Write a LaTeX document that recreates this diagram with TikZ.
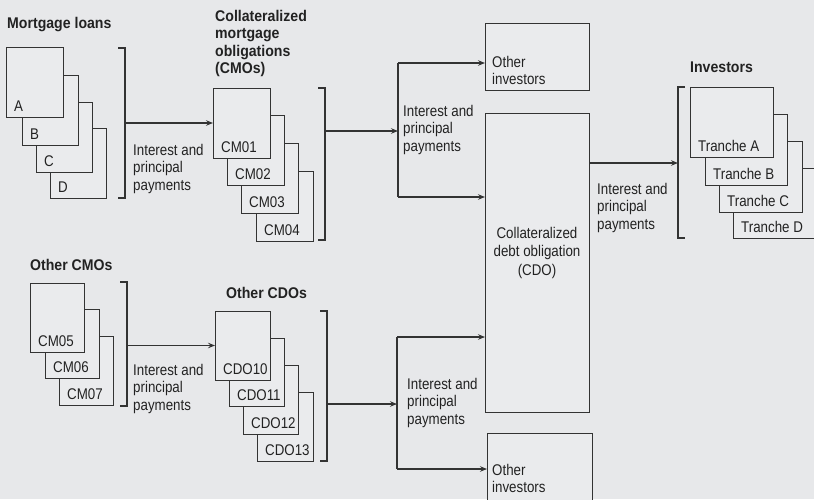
\documentclass[tikz,border=0pt]{standalone}
\usepackage{fontspec}
\setmainfont{Liberation Sans}[FakeStretch=0.86, BoldFeatures={FakeStretch=0.91}]
\usetikzlibrary{arrows.meta}
\definecolor{bg}{HTML}{E7E8EA}
\definecolor{boxbg}{HTML}{EAEBED}
\definecolor{ink}{HTML}{333333}
\definecolor{txt}{HTML}{222222}
\tikzset{
  ln/.style={draw=ink, line width=1.1pt},
  arr/.style={ln, -{Stealth[length=7pt,width=5.5pt,inset=2.5pt]}},
  box/.style={draw=ink, fill=boxbg, line width=1.1pt, inner sep=0pt, rectangle},
  lbl/.style={text=txt, inner sep=0pt, font=\fontsize{15.5}{17.5}\selectfont},
  txtblk/.style={text=txt, inner sep=0pt, align=left, anchor=north west, font=\fontsize{15.5}{17.5}\selectfont},
  ttl/.style={text=txt, inner sep=0pt, align=left, anchor=north west, font=\fontsize{15.5}{17.5}\selectfont\bfseries},
}
\newcommand\stk[6]{%
  \node[box, minimum width=#4pt, minimum height=#5pt, anchor=north west] (#1) at (#2,#3) {};
  \node[lbl, anchor=base west] (#1-l) at ([xshift=8pt,yshift=7pt]#1.south west) {#6};
}
\begin{document}
\begin{tikzpicture}[x=1pt,y=-1pt]
\useasboundingbox (0,0) rectangle (814,499);
\fill[bg] (0,0) rectangle (814,499);
\clip (0,0) rectangle (814,499);

% Mortgage loans
\node[ttl] (tml) at (7,17) {Mortgage loans};
\stk{mD}{50}{128}{56}{70}{D}
\stk{mC}{36}{102}{56}{70}{C}
\stk{mB}{22}{75}{56}{70}{B}
\stk{mA}{6}{47}{57}{70}{A}
\draw[ln] (118,48) -- (125,48) -- (125,198) -- (118,198);
\coordinate (br1) at (125,123);
\node[txtblk] (t1) at (133,144) {Interest and\\principal\\payments};

% CMOs
\node[ttl] (tcmo) at (215,10) {Collateralized\\mortgage\\obligations\\(CMOs)};
\stk{cm4}{256}{171}{57}{70}{CM04}
\stk{cm3}{241}{143}{57}{70}{CM03}
\stk{cm2}{227}{115}{57}{70}{CM02}
\stk{cm1}{213}{88}{57}{70}{CM01}
\draw[arr] (br1) -- (cm1.west |- br1);
\draw[ln] (318,88) -- (325,88) -- (325,240) -- (318,240);
\coordinate (br2) at (325,131);
\coordinate (sp1) at (398,131);
\coordinate (sp1t) at (398,63);
\coordinate (sp1b) at (398,197);
\draw[arr] (br2) -- (sp1);
\draw[ln] (sp1t) -- (sp1b);
\node[txtblk] (t2) at (403,105) {Interest and\\principal\\payments};

% Other investors (top), CDO, other investors (bottom)
\node[box, minimum width=104pt, minimum height=67pt, anchor=north west] (oi1) at (485,23) {};
\node[txtblk] (oi1t) at (492,56) {Other\\investors};
\node[box, minimum width=104pt, minimum height=299pt, anchor=north west] (cdo) at (485,113) {};
\node[text=txt, inner sep=0pt, align=center, anchor=north, font=\fontsize{15.5}{18.5}\selectfont] (cdot) at (537,227) {Collateralized\\debt obligation\\(CDO)};
\node[box, minimum width=105pt, minimum height=80pt, anchor=north west] (oi2) at (487,433) {};
\node[txtblk] (oi2t) at (492,464) {Other\\investors};
\draw[arr] (sp1t) -- (sp1t -| oi1.west);
\draw[arr] (sp1b) -- (sp1b -| cdo.west);

% CDO -> investors
\coordinate (cdoo) at (589,163);
\coordinate (br5) at (678,163);
\draw[arr] (cdoo) -- (br5);
\node[txtblk] (t3) at (597,183) {Interest and\\principal\\payments};
\draw[ln] (685,87) -- (678,87) -- (678,238) -- (685,238);
\node[ttl] (tinv) at (690,62) {Investors};
\stk{trD}{733}{168}{83}{70}{Tranche D}
\stk{trC}{719}{141}{83}{71}{Tranche C}
\stk{trB}{705}{114}{82}{71}{Tranche B}
\stk{trA}{690}{87}{83}{70}{Tranche A}

% Other CMOs
\node[ttl] (tocmo) at (30,259) {Other CMOs};
\stk{cm7}{59}{336}{54}{69}{CM07}
\stk{cm6}{45}{309}{54}{69}{CM06}
\stk{cm5}{30}{283}{54}{69}{CM05}
\draw[ln] (120,282) -- (127,282) -- (127,406) -- (120,406);
\coordinate (br3) at (127,345.5);
\node[txtblk] (t4) at (133,364) {Interest and\\principal\\payments};

% Other CDOs
\node[ttl] (tocdo) at (226,287) {Other CDOs};
\stk{cd13}{257}{392}{56}{69}{CDO13}
\stk{cd12}{243}{365}{55}{69}{CDO12}
\stk{cd11}{229}{338}{55}{68}{CDO11}
\stk{cd10}{215}{311}{55}{69}{CDO10}
\draw[arr] (br3) -- (cd10.west |- br3);
\draw[ln] (320,311) -- (327,311) -- (327,461) -- (320,461);
\coordinate (br4) at (327,404);
\coordinate (sp2) at (397,404);
\coordinate (sp2t) at (397,337);
\coordinate (sp2b) at (397,469);
\draw[arr] (br4) -- (sp2);
\draw[ln] (sp2t) -- (sp2b);
\draw[arr] (sp2t) -- (sp2t -| cdo.west);
\draw[arr] (sp2b) -- (sp2b -| oi2.west);
\node[txtblk] (t5) at (407,378) {Interest and\\principal\\payments};
\end{tikzpicture}
\end{document}
